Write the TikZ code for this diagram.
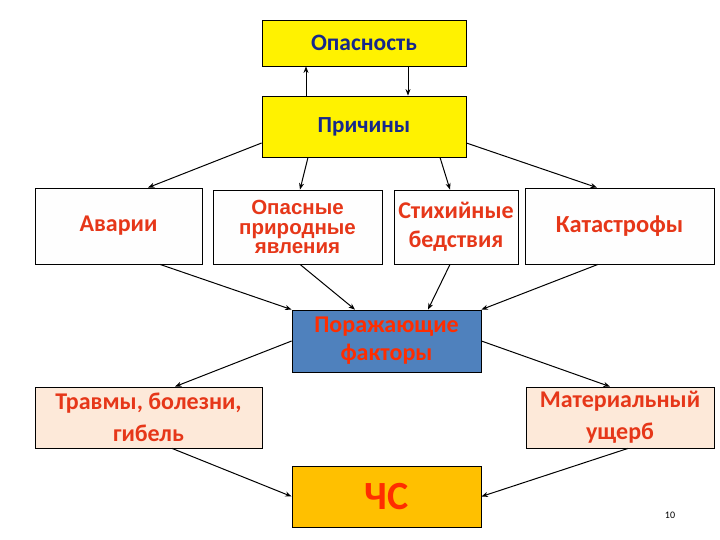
\documentclass[tikz,border=0pt]{standalone}
\usepackage{fontspec}
\setmainfont{Carlito}
\newfontfamily\arialish{Liberation Sans}
\usetikzlibrary{arrows.meta}
\definecolor{navytxt}{RGB}{22,40,140}
\definecolor{redtxt}{RGB}{230,55,25}
\definecolor{redtxt2}{RGB}{255,45,0}
\definecolor{steel}{RGB}{79,129,189}
\definecolor{peach}{RGB}{253,233,217}
\definecolor{amber}{RGB}{255,192,0}
\definecolor{offwhite}{RGB}{254,254,254}
\begin{document}
\begin{tikzpicture}[x=1pt,y=-1pt,
  box/.style={draw=black, line width=0.8pt, align=center, inner sep=0pt},
  arr/.style={-{Stealth[length=6.5pt,width=5pt]}, line width=1pt}]
\useasboundingbox (0,0) rectangle (720,540);
\fill[white] (0,0) rectangle (720,540);
\node[box, fill=yellow, minimum width=204pt, minimum height=46pt, text=navytxt, font=\bfseries\fontsize{23.5}{26}\selectfont] (op) at (364,43) {Опасность};
\node[box, fill=yellow, minimum width=204pt, minimum height=61pt, text=navytxt, font=\bfseries\fontsize{23}{26}\selectfont] (pr) at (364,126.5) {Причины};
\node[box, fill=offwhite, minimum width=167pt, minimum height=76pt, text=redtxt, font=\bfseries\fontsize{24}{26}\selectfont] (av) at (118.5,226) {Аварии};
\node[box, fill=offwhite, minimum width=169pt, minimum height=74pt, text=redtxt, font=\arialish\bfseries\fontsize{20.5}{19.5}\selectfont] (opn) at (297.5,227) {Опасные\\природные\\явления};
\node[box, fill=offwhite, minimum width=124pt, minimum height=74pt, text=redtxt, font=\bfseries\fontsize{24}{29}\selectfont] (st) at (456,227) {Стихийные\\бедствия};
\node[box, fill=offwhite, minimum width=189pt, minimum height=76pt, text=redtxt, font=\bfseries\fontsize{24.5}{26}\selectfont] (kat) at (619.5,226) {Катастрофы};
\node[box, fill=steel, minimum width=189pt, minimum height=62pt, text=redtxt2, font=\bfseries\fontsize{24}{28}\selectfont] (por) at (386.5,341) {Поражающие\\факторы};
\node[box, fill=peach, minimum width=227pt, minimum height=61pt, text=redtxt, font=\bfseries\fontsize{24}{32}\selectfont] (tr) at (148.5,417.5) {Травмы, болезни,\\гибель};
\node[box, fill=peach, minimum width=188pt, minimum height=61pt, text=redtxt, font=\bfseries\fontsize{24}{32}\selectfont] (mat) at (620,417.5) {Материальный\\ущерб};
\node[box, fill=amber, minimum width=189pt, minimum height=61pt, text=redtxt2, font=\bfseries\fontsize{40}{42}\selectfont] (chs) at (386.5,496.5) {ЧС};
\node[font=\fontsize{10}{12}\selectfont, inner sep=0pt] (num) at (670,515) {10};
\draw[arr] ([xshift=-58pt]pr.north) -- ([xshift=-58pt]op.south);
\draw[arr] ([xshift=44pt]op.south) -- ([xshift=44pt]pr.north);
\draw[arr] ([yshift=-16.5pt]pr.west) -- ([xshift=29.5pt]av.north);
\draw[arr] ([xshift=-56pt]pr.south) -- ([xshift=2.5pt]opn.north);
\draw[arr] ([xshift=76pt]pr.south) -- ([xshift=-6pt]st.north);
\draw[arr] ([yshift=-16.5pt]pr.east) -- ([xshift=-22.5pt]kat.north);
\draw[arr] ([xshift=41.5pt]av.south) -- (por.north west);
\draw[arr] ([xshift=2.5pt]opn.south) -- ([xshift=-31.5pt]por.north);
\draw[arr] ([xshift=-6pt]st.south) -- ([xshift=41.5pt]por.north);
\draw[arr] ([xshift=-21.5pt]kat.south) -- (por.north east);
\draw[arr] (por.west) -- ([xshift=26.5pt]tr.north);
\draw[arr] (por.east) -- ([xshift=-10pt]mat.north);
\draw[arr] ([xshift=23.5pt]tr.south) -- (chs.west);
\draw[arr] ([xshift=8pt]mat.south) -- (chs.east);
\end{tikzpicture}
\end{document}
